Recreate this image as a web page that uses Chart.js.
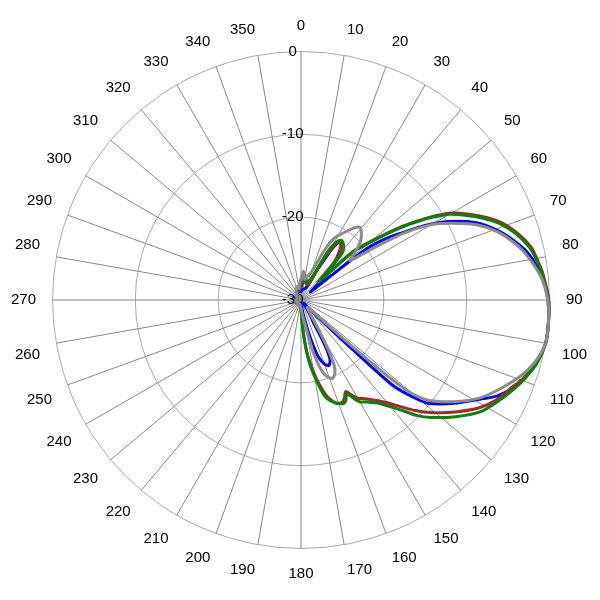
<!DOCTYPE html>
<html>
<head>
<meta charset="utf-8">
<script src="https://cdn.jsdelivr.net/npm/chart.js@4.4.1/dist/chart.umd.min.js"></script>
<style>
  html, body { margin: 0; padding: 0; background: #fff; }
  #wrap { width: 600px; height: 600px; }
</style>
</head>
<body>
<div id="wrap"><canvas id="patternChart"></canvas></div>
<script>
// angle tick labels, one every 10 degrees
const angleTicks = ['0', '10', '20', '30', '40', '50', '60', '70', '80', '90', '100', '110',
    '120', '130', '140', '150', '160', '170', '180', '190', '200', '210', '220', '230',
    '240', '250', '260', '270', '280', '290', '300', '310', '320', '330', '340', '350'];

// measured points (degree, dB) for each trace
const grayDeg = [0, 5, 10, 15, 20, 22, 25, 28, 32, 36, 39, 42, 45, 48, 51, 52, 54, 57, 60, 63, 67, 71, 76, 80, 85, 90,
    95, 100, 104, 108, 111, 115, 119, 123, 128, 130, 131, 132, 133, 135, 140, 146, 149, 151, 153, 155, 158, 161, 163,
    165, 167, 169, 172, 176, 180, 200, 220, 240, 260, 280, 300, 320, 330, 340, 345, 350, 355];
const grayDb = [-27.5, -26.5, -27.5, -27, -26.5, -25.9, -23.5, -21.6, -20.5, -19.3, -18.7, -19.1, -19.8, -21, -22.4, -22, -19.8, -15.2, -11.8, -9.6, -6.8, -4.8, -3, -1.9, -0.8, -0.2,
    0, 0, -0.6, -1.6, -2.6, -4, -5.5, -7.5, -10.3, -12.3, -14.6, -20, -25, -28.5, -28.8, -28, -26, -23.5, -21.2, -20.3, -19.8, -20.2, -20.8,
    -22, -23.7, -26, -27.5, -28.5, -29, -29.5, -29.3, -29.6, -29.3, -29.5, -29.4, -29.2, -28.8, -28.4, -28.3, -28.6, -28];

const greenDeg = [0, 5, 10, 15, 20, 24, 27, 29, 31, 34, 37, 41, 43, 44, 46, 47, 50, 54, 57, 59, 60, 63, 66, 69, 73, 77, 80, 84, 90,
    95, 100, 105, 109, 113, 117, 122, 127, 132, 135, 138, 143, 147, 150, 152, 154, 156, 158, 162, 166, 169, 172, 174, 176, 178,
    182, 200, 240, 270, 300, 330, 350];
const greenDb = [-28, -27.5, -27, -27.5, -28, -27.5, -26.5, -23.3, -22, -21.3, -21.5, -22.3, -24.5, -27, -25, -21.8, -19.3, -15.2, -12, -10.2, -9.3, -7.5, -5.8, -4.3, -2.8, -1.7, -1.2, -0.7, -0.2,
    0, 0, -0.5, -1.3, -2.2, -3.2, -4.5, -6.6, -8.8, -10.3, -12.2, -14.4, -15.3, -15.8, -16.6, -17.4, -16.7, -16.5, -17, -18, -20, -22, -23.9, -26, -28,
    -29, -29.5, -29.3, -29.5, -29.5, -29, -28.5];

const redDeg = [0, 10, 20, 25, 28, 30, 32, 34, 37, 40, 42, 44, 46, 47, 50, 54, 57, 60, 63, 66, 69, 73, 77, 80, 84, 90,
    95, 100, 105, 109, 112, 117, 121, 126, 131, 134, 137, 140, 143, 147, 150, 152, 154, 156, 158, 161, 165, 169, 172, 174, 177,
    180, 210, 250, 290, 330];
const redDb = [-28.5, -27.5, -28, -28, -26, -23.5, -22, -21.6, -22, -23, -24.5, -27, -25, -21.5, -19, -14.9, -11.8, -9, -7.2, -5.5, -4, -2.6, -1.5, -1.1, -0.6, -0.1,
    0, 0, -0.6, -1.4, -2.3, -3.5, -4.8, -7, -9.3, -10.8, -12.4, -13.8, -14.8, -15.8, -16.3, -17, -17.7, -17.1, -16.7, -16.8, -18, -20.4, -22.5, -24, -27,
    -29, -29.5, -29.4, -29.5, -29];

const blueDeg = [0, 10, 20, 25, 28, 30, 31, 33, 35, 37, 40, 43, 45, 48, 50, 51, 52, 54, 56, 59, 62, 66, 71, 75, 78, 82, 86, 90,
    95, 100, 104, 108, 112, 116, 119, 124, 129, 131, 133, 134, 135, 137, 140, 146, 149, 151, 152, 154, 157, 160, 163, 165,
    167, 169, 172, 180, 200, 230, 260, 290, 320, 340];
const blueDb = [-29, -28.7, -28.5, -28, -26, -24.5, -23, -21.7, -21.6, -22, -23.2, -24.5, -26, -28, -28.5, -25.5, -20, -17.5, -15.7, -12.5, -9.8, -7, -4.6, -3.1, -2.1, -1.2, -0.5, -0.1,
    0, 0, -0.5, -1.2, -2.1, -3.6, -5.3, -7.7, -10.2, -12.2, -15, -23, -27, -29, -29.5, -29, -28, -27, -24, -22, -21.4, -21.8, -22.8, -24.3,
    -26, -27.5, -28.5, -29.5, -29.6, -29.4, -29.5, -29.3, -29.2, -29];

// one label per degree, text only every 10 degrees
const labels = [];
for (let d = 0; d < 360; d++) {
    labels.push(d % 10 === 0 ? angleTicks[d / 10] : '');
}

function toSeries(deg, db) {
    const arr = new Array(360).fill(null);
    deg.forEach((d, i) => { arr[d] = db[i]; });
    return arr;
}

function trace(name, deg, db, color) {
    return {
        label: name,
        data: toSeries(deg, db),
        borderColor: color,
        backgroundColor: color,
        borderWidth: 3,
        pointRadius: 0,
        fill: false,
        spanGaps: true,
        tension: 0.25,
        borderJoinStyle: 'round'
    };
}

new Chart(document.getElementById('patternChart').getContext('2d'), {
    type: 'radar',
    data: {
        labels: labels,
        datasets: [
            trace('gray', grayDeg, grayDb, '#8c8c8c'),
            trace('green', greenDeg, greenDb, '#0a820a'),
            trace('red', redDeg, redDb, '#a82828'),
            trace('blue', blueDeg, blueDb, '#0000ff')
        ]
    },
    options: {
        responsive: true,
        maintainAspectRatio: false,
        animation: false,
        layout: { padding: 10 },
        plugins: {
            legend: { display: false },
            tooltip: { enabled: false }
        },
        scales: {
            r: {
                min: -30,
                max: 0,
                ticks: {
                    stepSize: 10,
                    color: '#000',
                    font: { family: 'Liberation Sans', size: 15 },
                    showLabelBackdrop: false,
                    callback: value => value + '    '
                },
                grid: { circular: true, color: '#a8a8a8', lineWidth: 1 },
                angleLines: {
                    color: '#888',
                    lineWidth: ctx => (ctx.index % 10 === 0 ? 1 : 0)
                },
                pointLabels: {
                    color: '#000',
                    padding: 7,
                    font: { family: 'Liberation Sans', size: 15 }
                }
            }
        }
    }
});
</script>
</body>
</html>
